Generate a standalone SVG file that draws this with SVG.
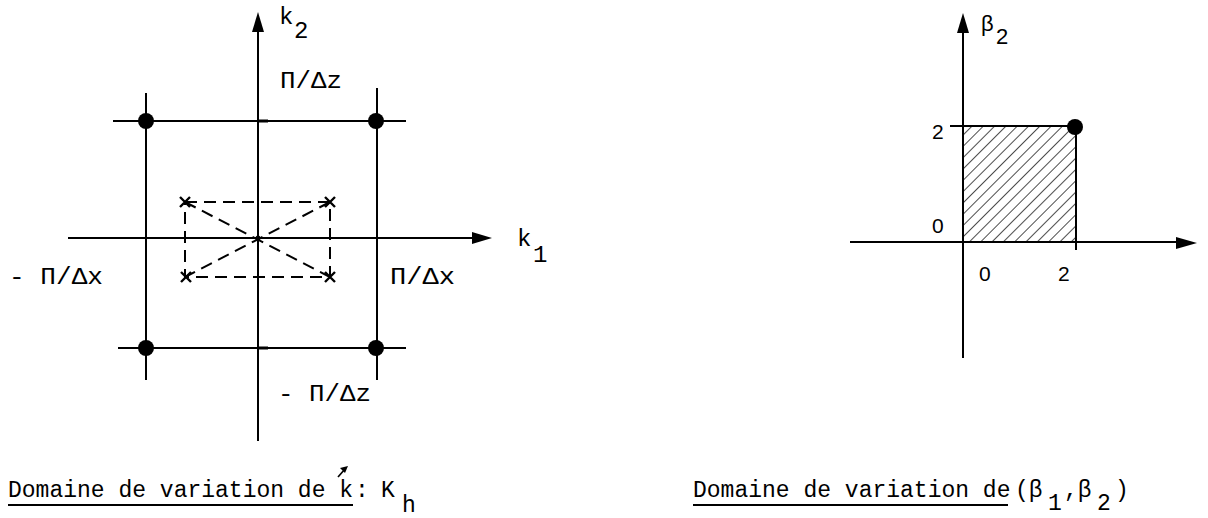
<svg xmlns="http://www.w3.org/2000/svg" width="1208" height="518" viewBox="0 0 1208 518">
<style>
.ln{stroke:#000;stroke-width:2;fill:none}
.ds{stroke:#000;stroke-width:2;fill:none;stroke-dasharray:12 7}
.dot{fill:#000}
.ah{fill:#000}
.tw{font-family:"Liberation Mono","DejaVu Sans Mono",monospace;font-size:24px;fill:#000}
.cap{font-size:23px}
.sf{font-family:"Liberation Sans","DejaVu Sans",sans-serif;font-size:21px;fill:#000}
.sfb{font-size:22px}
</style>
<defs>
<pattern id="hatch" patternUnits="userSpaceOnUse" width="8" height="8" patternTransform="rotate(45)">
<line x1="0" y1="0" x2="0" y2="8" stroke="#000" stroke-width="1.4"/>
</pattern>
</defs>
<g id="connectors">
<line class="ln" x1="258" y1="30" x2="258" y2="441"/>
<polygon class="ah" points="258,12 252,32 264,32"/>
<line class="ln" x1="68" y1="238" x2="475" y2="238"/>
<polygon class="ah" points="492,238 472,232 472,244"/>
<line class="ln" x1="113" y1="121" x2="406" y2="121"/>
<line class="ln" x1="118" y1="348" x2="406" y2="348"/>
<line class="ln" x1="146" y1="93" x2="146" y2="380"/>
<line class="ln" x1="377" y1="88" x2="377" y2="380"/>
<line class="ln" x1="146" y1="233" x2="146" y2="240"/>
<line class="ln" x1="377" y1="233" x2="377" y2="240"/>
<line x1="258" y1="121" x2="268" y2="121" stroke="#000" stroke-width="3"/>
<line x1="258" y1="348" x2="268" y2="348" stroke="#000" stroke-width="3"/>
<rect class="ds" x="185" y="202" width="145" height="75"/>
<line class="ds" x1="185" y1="202" x2="330" y2="277"/>
<line class="ds" x1="330" y1="202" x2="185" y2="277"/>
<line class="ln" x1="963" y1="30" x2="963" y2="358"/>
<polygon class="ah" points="963,13 957,33 969,33"/>
<line class="ln" x1="850" y1="242" x2="1180" y2="242"/>
<polygon class="ah" points="1197,243 1176,237 1176,249"/>
<rect x="963" y="126" width="113" height="116" fill="url(#hatch)"/>
<line class="ln" x1="950" y1="126" x2="1076" y2="126"/>
<line class="ln" x1="1076" y1="126" x2="1076" y2="250"/>
</g>
<g id="node-corners">
<circle class="dot" cx="146" cy="121" r="8"/>
<circle class="dot" cx="376" cy="121" r="8"/>
<circle class="dot" cx="146" cy="348" r="8"/>
<circle class="dot" cx="376" cy="348" r="8"/>
<circle class="dot" cx="1075" cy="127" r="8"/>
</g>
<g id="node-crosses" stroke="#000" stroke-width="2.4">
<path d="M180,197 L190,207 M190,197 L180,207"/>
<path d="M325,197 L335,207 M335,197 L325,207"/>
<path d="M181,272 L191,282 M191,272 L181,282"/>
<path d="M325,272 L335,282 M335,272 L325,282"/>
<circle cx="258" cy="238" r="2.5" fill="#000" stroke="none"/>
</g>
<g id="node-left-labels">
<text class="tw" x="279" y="24">k</text>
<text class="tw" x="294" y="38">2</text>
<text class="tw" x="517" y="246">k</text>
<text class="tw" x="533" y="262">1</text>
<text class="tw" x="280" y="88" textLength="62" lengthAdjust="spacingAndGlyphs">Π/Δz</text>
<text class="tw" x="9" y="284" textLength="94" lengthAdjust="spacingAndGlyphs">- Π/Δx</text>
<text class="tw" x="390" y="284" textLength="65" lengthAdjust="spacingAndGlyphs">Π/Δx</text>
<text class="tw" x="278" y="401" textLength="93" lengthAdjust="spacingAndGlyphs">- Π/Δz</text>
</g>
<g id="node-right-labels">
<text class="sf sfb" x="981" y="31">β</text>
<text class="sf sfb" x="996" y="44">2</text>
<text class="sf" x="932" y="139">2</text>
<text class="sf" x="932" y="233">0</text>
<text class="sf" x="979" y="281">0</text>
<text class="sf" x="1058" y="281">2</text>
</g>
<g id="node-caption-left">
<text class="tw cap" x="8" y="497">Domaine de variation de k</text>
<path d="M338,477 L345,469" stroke="#000" stroke-width="1.6"/>
<polygon points="348,466 340,468 345,473" fill="#000"/>
<line x1="8" y1="505" x2="353" y2="505" stroke="#000" stroke-width="2"/>
<text class="tw cap" x="355" y="497">:</text>
<text class="tw cap" x="381" y="497">K</text>
<text class="tw cap" x="402" y="512">h</text>
</g>
<g id="node-caption-right">
<text class="tw cap" x="693" y="497">Domaine de variation de</text>
<line x1="693" y1="505" x2="1008" y2="505" stroke="#000" stroke-width="2"/>
<text class="tw cap" x="1015" y="497">(β</text>
<text class="tw cap" x="1048" y="510">1</text>
<text class="tw cap" x="1064" y="497">,β</text>
<text class="tw cap" x="1097" y="510">2</text>
<text class="tw cap" x="1115" y="497">)</text>
</g>
</svg>
